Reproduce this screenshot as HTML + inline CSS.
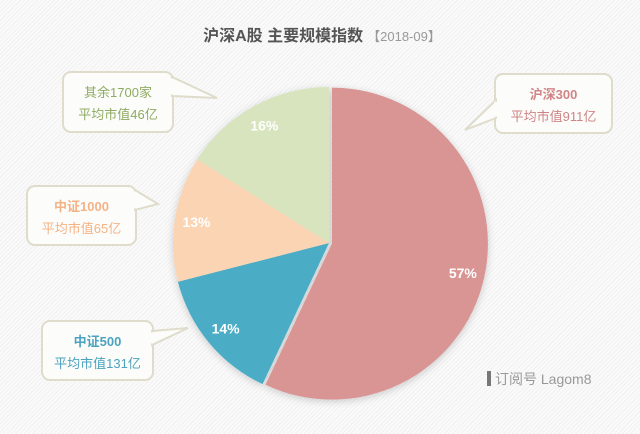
<!DOCTYPE html>
<html><head><meta charset="utf-8"><style>
html,body{margin:0;padding:0}
body{width:640px;height:429px;overflow:hidden;font-family:"Liberation Sans","Noto Sans CJK SC",sans-serif;
background:repeating-linear-gradient(135deg,#fafafa 0 2px,#f1f1f1 2px 3px);}
</style></head><body>
<svg width="640" height="429" viewBox="0 0 640 429">
<defs><filter id="sh" x="-20%" y="-20%" width="140%" height="140%"><feDropShadow dx="0" dy="2" stdDeviation="4" flood-color="#000" flood-opacity="0.18"/></filter></defs>
<text x="322" y="41" text-anchor="middle" font-family="Liberation Sans,Noto Sans CJK SC,sans-serif"><tspan font-size="16" font-weight="bold" fill="#555">沪深A股 主要规模指数</tspan><tspan font-size="13" fill="#999" dx="4">【2018-09】</tspan></text>
<g id="pie" filter="url(#sh)"></g>
<g id="labels"></g>
<g id="callouts"></g>
<rect x="487" y="371" width="4" height="15" fill="#777"/>
<text x="495" y="384" font-size="14" fill="#999" font-family="Liberation Sans,Noto Sans CJK SC,sans-serif">订阅号 Lagom8</text>
</svg>
<script>
const categories=["沪深300","中证500","中证1000","其余1700家"];
const shares=[57,14,13,16];
const avgCap=[911,131,65,46];
const colors=["#d99594","#4bacc6","#fbd4b4","#d7e4bd"];
const textColors=["#d08486","#4aa3bf","#f4b386","#8fab62"];
const NS="http://www.w3.org/2000/svg";
const cx=329,cy=243,R=156;
const total=shares.reduce((a,b)=>a+b,0);
const pie=document.getElementById('pie'),labels=document.getElementById('labels'),call=document.getElementById('callouts');
function pt(a,r,ox,oy){return [ox+r*Math.sin(a),oy-r*Math.cos(a)];}
let a0=0;
shares.forEach((v,i)=>{
  const a1=a0+v/total*2*Math.PI;
  const mid=(a0+a1)/2;
  const off=i===0?3:0;
  const ox=cx+off*Math.sin(mid),oy=cy-off*Math.cos(mid);
  const p0=pt(a0,R,ox,oy),p1=pt(a1,R,ox,oy);
  const path=document.createElementNS(NS,'path');
  path.setAttribute('d',`M${ox},${oy}L${p0[0]},${p0[1]}A${R},${R} 0 ${a1-a0>Math.PI?1:0} 1 ${p1[0]},${p1[1]}Z`);
  path.setAttribute('fill',colors[i]);
  
  
  pie.appendChild(path);
  const lp=pt(mid,R*0.86,ox,oy);
  const t=document.createElementNS(NS,'text');
  t.setAttribute('x',lp[0]);t.setAttribute('y',lp[1]+5);
  t.setAttribute('text-anchor','middle');t.setAttribute('font-size','14');t.setAttribute('font-weight','bold');t.setAttribute('fill','#fff');
  t.textContent=v+'%';
  
  
  labels.appendChild(t);
  a0=a1;
});
const boxes=[
 {x:495,y:74,w:117,h:59,tail:[[496,100],[496,118],[465,130]]},
 {x:42,y:321,w:111,h:59,tail:[[152,331],[152,345],[188,328]]},
 {x:27,y:186,w:109,h:59,tail:[[135,190],[135,210],[158,204]]},
 {x:63,y:72,w:110,h:60,tail:[[172,77],[172,96],[217,98]]}
];
boxes.forEach((b,i)=>{
  const g=document.createElementNS(NS,'g');
  
  
  const r=document.createElementNS(NS,'rect');
  r.setAttribute('x',b.x);r.setAttribute('y',b.y);r.setAttribute('width',b.w);r.setAttribute('height',b.h);r.setAttribute('rx',8);
  r.setAttribute('fill','#fcfcfa');r.setAttribute('stroke','#dfdccb');r.setAttribute('stroke-width','2');
  g.appendChild(r);
  const tl=document.createElementNS(NS,'polygon');
  tl.setAttribute('points',b.tail.map(p=>p.join(',')).join(' '));
  tl.setAttribute('fill','#fcfcfa');tl.setAttribute('stroke','#dfdccb');tl.setAttribute('stroke-width','2');
  g.appendChild(tl);
  const cover=document.createElementNS(NS,'line');
  cover.setAttribute('x1',b.tail[0][0]);cover.setAttribute('y1',b.tail[0][1]+1.5);
  cover.setAttribute('x2',b.tail[1][0]);cover.setAttribute('y2',b.tail[1][1]-1.5);
  cover.setAttribute('stroke','#fcfcfa');cover.setAttribute('stroke-width','3');
  g.appendChild(cover);
  const cxm=b.x+b.w/2;
  const t1=document.createElementNS(NS,'text');
  t1.setAttribute('x',cxm);t1.setAttribute('y',b.y+25);t1.setAttribute('text-anchor','middle');
  t1.setAttribute('font-size','13');t1.setAttribute('font-weight',i===3?'normal':'bold');t1.setAttribute('fill',textColors[i]);
  t1.textContent=categories[i];
  g.appendChild(t1);
  const t2=document.createElementNS(NS,'text');
  t2.setAttribute('x',cxm);t2.setAttribute('y',b.y+47);t2.setAttribute('text-anchor','middle');
  t2.setAttribute('font-size','13');t2.setAttribute('fill',textColors[i]);
  t2.textContent='平均市值'+avgCap[i]+'亿';
  g.appendChild(t2);
  call.appendChild(g);
});
</script>
</body></html>
